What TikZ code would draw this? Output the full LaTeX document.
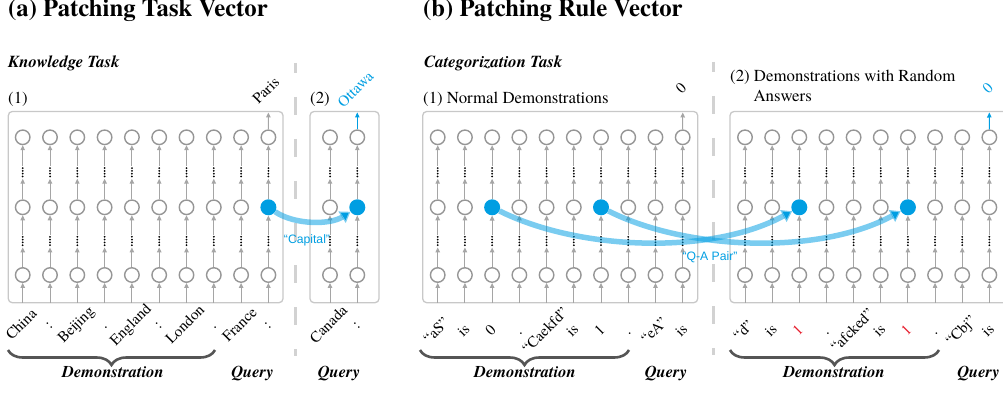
\documentclass[tikz,border=0pt]{standalone}
\usepackage{fontspec}
\IfFontExistsTF{TeX Gyre Termes}{\setmainfont{TeX Gyre Termes}}{\setmainfont{Liberation Serif}[BoldFont={Liberation Serif},BoldFeatures={FakeBold=2.2},BoldItalicFont={Liberation Serif},BoldItalicFeatures={FakeBold=2.2,FakeSlant=0.2}]}
\newfontfamily\qsans{Liberation Sans}
\usetikzlibrary{arrows.meta,decorations.pathreplacing}
\definecolor{gcirc}{RGB}{150,150,150}
\definecolor{gline}{RGB}{165,165,165}
\definecolor{gbox}{RGB}{200,200,200}
\definecolor{gsep}{RGB}{210,210,210}
\definecolor{bfill}{RGB}{0,158,226}
\definecolor{bracec}{RGB}{85,85,85}
\definecolor{redtok}{RGB}{230,30,45}
\newcommand\mkcol[3]{%
  \node[hc] (#1T) at (#2,137.3) {};
  \node[dn] (#1U) at (#2,172.3) {};
  \node[#3] (#1M) at (#2,207.3) {};
  \node[dn] (#1L) at (#2,241) {};
  \node[hc] (#1B) at (#2,275) {};
  \coordinate (#1I) at (#2,302.5);
  \draw[garr] (#1I) -- (#1B);
  \draw[garr] (#1B) -- (#1L);
  \draw[garr] (#1L) -- (#1M);
  \draw[garr] (#1M) -- (#1U);
  \draw[garr] (#1U) -- (#1T);
  \foreach \dy in {-4.2,-1.4,1.4,4.2}{\fill (#1U) ++(0,\dy) circle (1pt); \fill (#1L) ++(0,\dy) circle (1pt);}%
}
\begin{document}
\begin{tikzpicture}[x=1pt,y=-1pt,
  hc/.style={circle,draw=gcirc,line width=1.4pt,minimum size=14.5pt,inner sep=0pt,fill=white},
  fc/.style={circle,fill=bfill,minimum size=16pt,inner sep=0pt},
  dn/.style={inner sep=0pt,minimum width=3pt,minimum height=12.5pt},
  garr/.style={draw=gline,line width=1pt,-{Triangle[length=5pt,width=4.5pt]}},
  barr/.style={draw=bfill,line width=1pt,-{Triangle[length=5pt,width=4.5pt]}},
  panel/.style={draw=gbox,line width=1.3pt,rounded corners=4pt},
  sep/.style={draw=gsep,line width=3.5pt,dash pattern=on 18pt off 24pt,dash phase=8pt},
  tok/.style={font=\fontsize{15.3}{17}\selectfont,rotate=45,inner sep=0pt,text height=1.5ex,text depth=.25ex},
  ttl/.style={anchor=base west,inner sep=0pt,font=\bfseries\fontsize{24.7}{28}\selectfont},
  sub/.style={anchor=base west,inner sep=0pt,font=\bfseries\itshape\fontsize{16.8}{19}\selectfont},
  lbl/.style={anchor=base west,inner sep=0pt,font=\fontsize{16.8}{19}\selectfont},
  bot/.style={anchor=base,inner sep=0pt,font=\bfseries\itshape\fontsize{16.5}{19}\selectfont},
  brc/.style={draw=bracec,line width=2.6pt,decorate,decoration={brace,mirror,amplitude=15pt}},
  arcst/.style={draw=bfill,draw opacity=0.52,line width=5.5pt,-{Triangle[length=10pt,width=13pt]}},
  qlab/.style={text=bfill,inner sep=0pt,font=\qsans\fontsize{12.2}{14}\selectfont}]
\useasboundingbox (0,0) rectangle (1003,398);
\clip (0,0) rectangle (1003,398);
% titles
\node[ttl] (ta) at (8,16.5) {(a) Patching Task Vector};
\node[ttl] (tb) at (423,16.5) {(b) Patching Rule Vector};
\node[sub] (sa) at (8,68) {Knowledge Task};
\node[sub] (sb) at (424,68) {Categorization Task};
\node[lbl] (l1) at (8,103.3) {(1)};
\node[lbl] (l2) at (310,103.3) {(2)};
\node[lbl] (l3) at (423,103.3) {(1) Normal Demonstrations};
\node[lbl] (l4) at (730,81.7) {(2) Demonstrations with Random};
\node[lbl] (l5) at (753.3,101.7) {Answers};
% separators
\draw[sep] (295.3,63) -- (295.3,356);
\draw[sep] (713.3,62) -- (713.3,355);
% panels
\draw[panel] (8.3,111.5) rectangle (283,302.7);
\draw[panel] (310,111.5) rectangle (379,302.7);
\draw[panel] (422.7,111.5) rectangle (697.7,302.7);
\draw[panel] (730,111.5) rectangle (1020,302.7);
% columns
\foreach \i/\s in {1/hc,2/hc,3/hc,4/hc,5/hc,6/hc,7/hc,8/hc,9/hc,10/fc}{\pgfmathsetmacro\xx{22.7+(\i-1)*27.3}\mkcol{a\i}{\xx}{\s}}
\foreach \i/\s in {1/hc,2/fc}{\pgfmathsetmacro\xx{330+(\i-1)*27.3}\mkcol{c\i}{\xx}{\s}}
\foreach \i/\s in {1/hc,2/hc,3/fc,4/hc,5/hc,6/hc,7/fc,8/hc,9/hc,10/hc}{\pgfmathsetmacro\xx{437.7+(\i-1)*27.22}\mkcol{b\i}{\xx}{\s}}
\foreach \i/\s in {1/hc,2/hc,3/fc,4/hc,5/hc,6/hc,7/fc,8/hc,9/hc,10/hc}{\pgfmathsetmacro\xx{745+(\i-1)*27.15}\mkcol{d\i}{\xx}{\s}}
% input tokens
\foreach \i/\t in {1/China,2/:,3/Beijing,4/.,5/England,6/:,7/London,8/.,9/France,10/:}{\pgfmathsetmacro\xx{22.7+(\i-1)*27.3}\node[tok] (ta\i) at (\xx,326) {\t};}
\foreach \i/\t in {1/Canada,2/:}{\pgfmathsetmacro\xx{330+(\i-1)*27.3}\node[tok] (tc\i) at (\xx,326) {\t};}
\foreach \i/\t in {1/“aS”,2/is,3/0,4/.,5/“Caekfd”,6/is,7/1,8/.,9/“eA”,10/is}{\pgfmathsetmacro\xx{437.7+(\i-1)*27.22}\node[tok] (tb\i) at (\xx,332) {\t};}
\foreach \i/\t in {1/“d”,2/is,3/{\color{redtok}1},4/.,5/“afcked”,6/is,7/{\color{redtok}1},8/.,9/“Cbj”,10/is}{\pgfmathsetmacro\xx{745+(\i-1)*27.15}\node[tok] (td\i) at (\xx,332) {\t};}
% outputs
\coordinate (oa) at (268.4,112.5);
\coordinate (oc) at (357.3,112.5);
\coordinate (ob) at (682.7,112.5);
\coordinate (od) at (989.3,112.5);
\draw[garr] (a10T) -- (oa);
\draw[barr] (c2T) -- (oc);
\draw[garr] (b10T) -- (ob);
\draw[barr] (d10T) -- (od);
\node[tok] (paris) at (267.5,92) {Paris};
\node[tok,text=bfill] (ottawa) at (357,91) {Ottawa};
\node[tok] (zero1) at (682.7,90) {0};
\node[tok,text=bfill] (zero2) at (989.3,90) {0};
% patching arcs
\draw[arcst] (a10M) .. controls (295,225) and (330,225) .. (c2M);
\draw[arcst] (b3M) .. controls (580,251) and (712,255) .. (d3M);
\draw[arcst] (b7M) .. controls (688,251) and (820,255) .. (d7M);
\node[qlab] (cap) at (307,240) {“Capital”};
\node[qlab] (qa) at (710,257) {“Q-A Pair”};
% braces
\coordinate (ba1) at (8,350); \coordinate (ba2) at (215,350);
\coordinate (bb1) at (420,350); \coordinate (bb2) at (629,350);
\coordinate (bd1) at (730,350); \coordinate (bd2) at (939,350);
\draw[brc] (ba1) -- (ba2);
\draw[brc] (bb1) -- (bb2);
\draw[brc] (bd1) -- (bd2);
\node[bot] (da) at (113,377) {Demonstration};
\node[bot] (qa1) at (252.5,377) {Query};
\node[bot] (qa2) at (339,377) {Query};
\node[bot] (db) at (525,377) {Demonstration};
\node[bot] (qb) at (666,377) {Query};
\node[bot] (dd) at (834,377) {Demonstration};
\node[bot] (qd) at (978.5,377) {Query};
\end{tikzpicture}
\end{document}
